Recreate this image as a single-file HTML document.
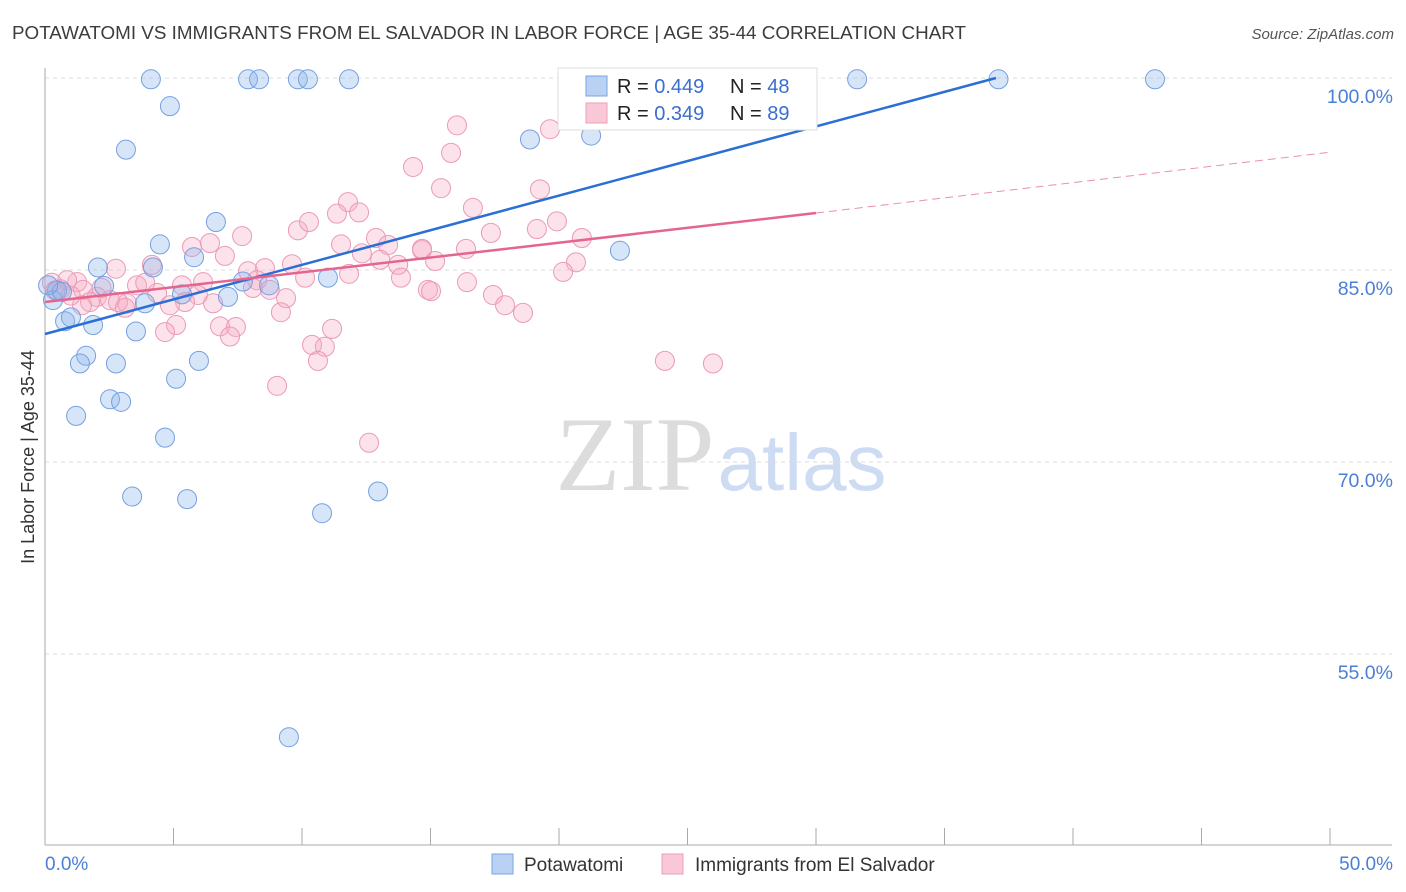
<!DOCTYPE html>
<html><head><meta charset="utf-8"><style>
body{margin:0;background:#fff;font-family:"Liberation Sans",sans-serif;}
svg{display:block}
</style></head><body>
<svg id="chart" width="1406" height="892" xmlns="http://www.w3.org/2000/svg">
<text x="12" y="39" font-size="18" fill="#3c3c3c" textLength="954" lengthAdjust="spacingAndGlyphs">POTAWATOMI VS IMMIGRANTS FROM EL SALVADOR IN LABOR FORCE | AGE 35-44 CORRELATION CHART</text>
<text x="1394" y="39" font-size="15" fill="#555" font-style="italic" text-anchor="end">Source: ZipAtlas.com</text>
<g>
<text x="635" y="490" font-size="106" font-family="Liberation Serif,serif" fill="#dcdcdc" text-anchor="middle">ZIP</text>
<text x="802" y="490" font-size="80" fill="#cddcf3" text-anchor="middle">atlas</text>
</g>
<g id="grid"></g>
<g id="axes"></g>
<g id="points"></g>
<g id="lines"></g>
<text transform="translate(34,457) rotate(-90)" font-size="18" fill="#333" text-anchor="middle">In Labor Force | Age 35-44</text>
<g>
<rect x="558" y="68" width="259" height="62" fill="#fff" stroke="#ddd"/>
<rect x="586" y="76" width="21" height="20" fill="#b9d1f3" stroke="#7aa3e3"/>
<text x="617" y="93" font-size="20" fill="#222">R = <tspan fill="#3a6fd0">0.449</tspan></text>
<text x="730" y="93" font-size="20" fill="#222">N = <tspan fill="#3a6fd0">48</tspan></text>
<rect x="586" y="103" width="21" height="20" fill="#f9c8d7" stroke="#ee9fb8"/>
<text x="617" y="120" font-size="20" fill="#222">R = <tspan fill="#3a6fd0">0.349</tspan></text>
<text x="730" y="120" font-size="20" fill="#222">N = <tspan fill="#3a6fd0">89</tspan></text>
</g>
<g>
<rect x="492" y="854" width="21" height="20" fill="#b9d1f3" stroke="#7aa3e3"/>
<text x="524" y="871" font-size="19" fill="#333">Potawatomi</text>
<rect x="662" y="854" width="21" height="20" fill="#f9c8d7" stroke="#ee9fb8"/>
<text x="695" y="871" font-size="19" fill="#333">Immigrants from El Salvador</text>
</g>
</svg>
<script>
const yTicks=[100,85,70,55];
const yTickLabels=["100.0%","85.0%","70.0%","55.0%"];
const xTicks=[0,5,10,15,20,25,30,35,40,45,50];
const blueX=[4.12,7.90,8.33,9.84,10.23,11.83,31.6,37.1,43.19,4.86,3.15,18.87,21.25,6.65,4.47,22.37,5.80,2.06,4.20,2.30,7.70,8.72,11.01,7.12,5.33,3.89,0.31,0.47,0.66,0.78,1.01,1.87,3.54,1.60,1.36,2.76,5.99,5.10,2.53,2.96,1.21,4.67,3.39,5.53,12.96,10.78,9.49,0.12];
const blueY=[99.9,99.9,99.9,99.9,99.9,99.9,99.9,99.9,99.9,97.8,94.4,95.2,95.5,88.75,87.0,86.5,86.0,85.2,85.2,83.75,84.1,83.8,84.4,82.9,83.1,82.4,82.65,83.4,83.3,81.0,81.3,80.7,80.2,78.3,77.7,77.7,77.9,76.5,74.9,74.7,73.6,71.9,67.3,67.1,67.7,66.0,48.5,83.8];
const pinkX=[14.32,11.79,11.36,12.22,9.84,10.27,7.67,5.72,6.42,7.00,11.52,12.88,13.35,14.67,12.33,13.04,13.74,13.85,14.90,11.83,10.12,9.61,8.56,7.90,8.25,8.09,8.75,2.76,4.16,1.25,0.86,1.48,2.02,1.75,2.53,3.58,4.36,3.19,5.33,6.15,5.95,5.45,4.86,6.54,2.84,3.11,1.44,9.38,9.18,6.81,7.43,7.20,5.10,4.67,11.17,10.39,10.89,10.62,9.03,12.61,0.27,25.33,16.03,19.65,15.80,15.41,19.26,16.65,17.35,19.14,19.92,20.89,14.67,16.38,15.18,20.66,20.16,16.42,15.02,17.43,17.90,18.60,24.12,25.99,0.6,1.0,2.2,3.9,0.4];
const pinkY=[93.05,90.3,89.4,89.5,88.1,88.75,87.65,86.8,87.1,86.1,87.0,87.5,86.95,86.55,86.3,85.8,85.4,84.4,83.45,84.7,84.4,85.45,85.15,84.9,84.2,83.6,83.45,85.1,85.4,84.05,84.2,83.45,82.9,82.5,82.65,83.8,83.2,82.4,83.8,84.05,83.05,82.5,82.25,82.4,82.5,82.05,82.25,82.8,81.7,80.6,80.55,79.8,80.7,80.15,80.4,79.15,79.0,77.9,75.95,71.5,84.0,100,96.3,96.0,94.15,91.4,91.3,89.85,87.9,88.2,88.8,87.5,86.65,86.65,85.7,85.6,84.85,84.05,83.35,83.05,82.25,81.65,77.9,77.7,83.5,83.0,83.6,84.0,83.4];
const blueTrend=[[0,80.0],[37.0,100]];
const pinkTrend=[[0,82.5],[30,89.45]];
const pinkTrendExt=[[30,89.45],[50,94.2]];
const X=v=>45+v/50*1285;
const Y=v=>78+(100-v)/15*192;
const NS="http://www.w3.org/2000/svg";
function mk(tag,attrs,parent){const e=document.createElementNS(NS,tag);for(const k in attrs)e.setAttribute(k,attrs[k]);parent.appendChild(e);return e;}
const grid=document.getElementById('grid'),axes=document.getElementById('axes'),pts=document.getElementById('points'),lines=document.getElementById('lines');
yTicks.forEach((t,i)=>{
 const l=mk('line',{x1:45,x2:1392,y1:Y(t),y2:Y(t),stroke:'#ddd','stroke-dasharray':'4,4'},grid);
 
 
 const tx=mk('text',{x:1393,y:Y(t)+25,'font-size':19.5,fill:'#4a7fd6','text-anchor':'end'},axes);
 tx.textContent=yTickLabels[i];
 
 
});
const ya=mk('line',{x1:45,x2:45,y1:68,y2:845,stroke:'#aaa'},axes);


const xa=mk('line',{x1:45,x2:1392,y1:845,y2:845,stroke:'#aaa'},axes);


xTicks.forEach(t=>{
 const l=mk('line',{x1:X(t),x2:X(t),y1:828,y2:845,stroke:'#aaa'},axes);
 
 
});
const x0=mk('text',{x:45,y:870,'font-size':19,fill:'#4a7fd6'},axes);x0.textContent='0.0%';


const x1=mk('text',{x:1393,y:870,'font-size':19,fill:'#4a7fd6','text-anchor':'end'},axes);x1.textContent='50.0%';


pinkX.forEach((v,i)=>{
 const c=mk('circle',{cx:X(v),cy:Y(pinkY[i]),r:9.5,fill:'rgba(246,172,197,0.35)',stroke:'#eb9ab6','stroke-width':1},pts);
 
 
});
blueX.forEach((v,i)=>{
 const c=mk('circle',{cx:X(v),cy:Y(blueY[i]),r:9.5,fill:'rgba(140,180,235,0.35)',stroke:'#76a0e2','stroke-width':1},pts);
 
 
});
const bl=mk('line',{x1:X(blueTrend[0][0]),y1:Y(blueTrend[0][1]),x2:X(blueTrend[1][0]),y2:Y(blueTrend[1][1]),stroke:'#2a6fd6','stroke-width':2.5},lines);


const pl=mk('line',{x1:X(pinkTrend[0][0]),y1:Y(pinkTrend[0][1]),x2:X(pinkTrend[1][0]),y2:Y(pinkTrend[1][1]),stroke:'#e4658f','stroke-width':2.5},lines);


const pd=mk('line',{x1:X(pinkTrendExt[0][0]),y1:Y(pinkTrendExt[0][1]),x2:X(pinkTrendExt[1][0]),y2:Y(pinkTrendExt[1][1]),stroke:'#e890ad','stroke-width':1,'stroke-dasharray':'8,5'},lines);


</script>
</body></html>
